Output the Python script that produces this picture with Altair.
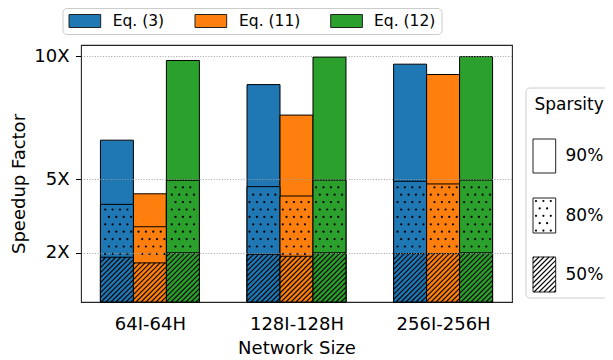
import json
import altair as alt
import pandas as pd

# ---------------- data ----------------
networks = ["64I-64H", "128I-128H", "256I-256H"]
methods = ["Eq. (3)", "Eq. (11)", "Eq. (12)"]
method_colors = ["#1f77b4", "#ff7f0e", "#2ca02c"]
sparsity_levels = ["90%", "80%", "50%"]

eq3_s90 = [6.58, 8.84, 9.67]
eq3_s80 = [3.97, 4.69, 4.91]
eq3_s50 = [1.82, 1.94, 1.97]
eq11_s90 = [4.40, 7.60, 9.25]
eq11_s80 = [3.06, 4.31, 4.80]
eq11_s50 = [1.59, 1.86, 1.97]
eq12_s90 = [9.82, 9.96, 9.98]
eq12_s80 = [4.95, 4.96, 4.96]
eq12_s50 = [2.00, 2.00, 2.00]

y_ticks = [2, 5, 10]

series = {
    "Eq. (3)": {"90%": eq3_s90, "80%": eq3_s80, "50%": eq3_s50},
    "Eq. (11)": {"90%": eq11_s90, "80%": eq11_s80, "50%": eq11_s50},
    "Eq. (12)": {"90%": eq12_s90, "80%": eq12_s80, "50%": eq12_s50},
}

# ---------------- layout constants ----------------
FONT = "DejaVu Sans"
W_PX, H_PX = 431, 257
XMIN, XMAX = -0.47, 2.47
YMAX = 10.45
BAR_W = 0.225
px_x = W_PX / (XMAX - XMIN)
px_y = H_PX / YMAX

rows = []
for g, net in enumerate(networks):
    for m, meth in enumerate(methods):
        x0 = g + (m - 1) * BAR_W - BAR_W / 2
        for s in sparsity_levels:
            rows.append({"network": net, "method": meth, "sparsity": s,
                         "x0": x0, "x1": x0 + BAR_W,
                         "value": series[meth][s][g], "zero": 0.0})
bars = pd.DataFrame(rows)

# hatch ('///') lines inside 50% bars and dots inside 80% bars
HATCH = 5.0
DOT = 7.4
hatch_rows, dot_rows = [], []
for g, net in enumerate(networks):
    for m, meth in enumerate(methods):
        x0 = g + (m - 1) * BAR_W - BAR_W / 2
        xl = (x0 - XMIN) * px_x
        xr = xl + BAR_W * px_x
        h50 = series[meth]["50%"][g] * px_y
        h80 = series[meth]["80%"][g] * px_y
        k = int((xl - h50) // HATCH) - 1
        while k * HATCH <= xr + 1:
            c = k * HATCH
            xa, xb = max(xl, c), min(xr, c + h50)
            if xb - xa > 0.4:
                hatch_rows.append({"hx": xa / px_x + XMIN, "hy": (xa - c) / px_y,
                                   "hx2": xb / px_x + XMIN, "hy2": (xb - c) / px_y})
            k += 1
        j = 0
        while j * DOT < h80:
            yu = j * DOT + DOT / 2
            i = 0
            while i * DOT < W_PX:
                xp = i * DOT + (j % 2) * DOT / 2 + 2
                if xl + 1.8 <= xp <= xr - 1.8 and h50 + 2.2 <= yu <= h80 - 2.2:
                    dot_rows.append({"dx": xp / px_x + XMIN, "dy": yu / px_y})
                i += 1
            j += 1
hatch_df = pd.DataFrame(hatch_rows)
dot_df = pd.DataFrame(dot_rows)

color = alt.Color("method:N", scale=alt.Scale(domain=methods, range=method_colors), legend=None)
xscale = alt.Scale(domain=[XMIN, XMAX], nice=False, zero=False)
yscale = alt.Scale(domain=[0, YMAX], nice=False, zero=True)

x_axis = alt.Axis(values=[0, 1, 2], labelExpr=json.dumps(networks) + "[datum.value]",
                  title="Network Size", grid=False, domain=False, ticks=True,
                  tickOpacity=0, tickSize=5, labelPadding=8, labelFont=FONT,
                  labelFontSize=18, labelColor="black", titleFont=FONT,
                  titleFontSize=18, titleFontWeight="normal", titleColor="black",
                  titleY=37, titleBaseline="top", labelFlush=False)
y_axis = alt.Axis(values=y_ticks, labelExpr="datum.value + 'X'", title="Speedup Factor",
                  grid=True, gridDash=[1, 1.7], gridColor="#a0a0a0", gridWidth=1,
                  domain=False, ticks=True, tickColor="black", tickSize=5.5, tickWidth=1,
                  labelPadding=6.5, labelFont=FONT, labelFontSize=18, labelColor="black",
                  titleFont=FONT, titleFontSize=18, titleFontWeight="normal",
                  titleColor="black", titleX=-61.5, titleY=138.5, titleAngle=270,
                  titleAlign="center", titleBaseline="middle", zindex=1)

base = alt.Chart(bars)


def bar_layer(level, first=False):
    xenc = alt.X("x0:Q", scale=xscale, axis=x_axis) if first else alt.X("x0:Q", scale=xscale)
    yenc = alt.Y("zero:Q", scale=yscale, axis=y_axis) if first else alt.Y("zero:Q", scale=yscale)
    return base.transform_filter(alt.datum.sparsity == level).mark_rect(
        stroke="black", strokeWidth=1
    ).encode(x=xenc, x2="x1", y=yenc, y2="value", color=color)


b90 = bar_layer("90%", first=True)
b80 = bar_layer("80%")
b50 = bar_layer("50%")

dots = alt.Chart(dot_df).mark_circle(size=5, color="black", opacity=1).encode(
    x=alt.X("dx:Q", scale=xscale),
    y=alt.Y("dy:Q", scale=yscale),
)
hatch = alt.Chart(hatch_df).mark_rule(color="black", strokeWidth=1.1).encode(
    x=alt.X("hx:Q", scale=xscale), x2="hx2",
    y=alt.Y("hy:Q", scale=yscale), y2="hy2",
)

# ---------------- top legend (methods) ----------------
def pxX(f):
    return alt.X(f, type="quantitative", scale=None)


def pxY(f):
    return alt.Y(f, type="quantitative", scale=None)


top_box = alt.Chart(pd.DataFrame([{"a": -18, "b": 361, "c": -36.5, "d": -10.5}])).mark_rect(
    fill="white", stroke="#cccccc", strokeWidth=1, cornerRadius=4
).encode(x=pxX("a"), x2="b", y=pxY("c"), y2="d")

sw_x = [-12, 114, 249.7]
lab_x = [31.7, 158, 293]
cy_top = -24
top_items = pd.DataFrame([{"method": m, "a": sw_x[i], "b": sw_x[i] + 31.7,
                           "c": cy_top - 6.5, "d": cy_top + 6.5,
                           "lx": lab_x[i], "ly": cy_top} for i, m in enumerate(methods)])
top_sw = alt.Chart(top_items).mark_rect(stroke="#222222", strokeWidth=1).encode(
    x=pxX("a"), x2="b", y=pxY("c"), y2="d", color=color)
top_lab = alt.Chart(top_items).mark_text(align="left", baseline="middle", font=FONT,
                                         fontSize=15.5, color="black").encode(
    x=pxX("lx"), y=pxY("ly"), text="method:N")

# ---------------- right legend (sparsity) ----------------
side_box = alt.Chart(pd.DataFrame([{"a": 445, "b": 560, "c": 43, "d": 253}])).mark_rect(
    fill="white", stroke="#cccccc", strokeWidth=1, cornerRadius=4
).encode(x=pxX("a"), x2="b", y=pxY("c"), y2="d")
side_title = alt.Chart(pd.DataFrame([{"t": "Sparsity", "x": 453.5, "y": 60}])).mark_text(
    align="left", baseline="middle", font=FONT, fontSize=17, color="black"
).encode(x=pxX("x"), y=pxY("y"), text="t:N")

sx0, sx1 = 452, 474.7
sy = [(94, 128), (153, 188), (212, 247)]
side_items = pd.DataFrame([{"s": s, "a": sx0, "b": sx1, "c": sy[i][0], "d": sy[i][1],
                            "lx": 484.5, "ly": (sy[i][0] + sy[i][1]) / 2}
                           for i, s in enumerate(sparsity_levels)])
side_sw = alt.Chart(side_items).mark_rect(fill="white", stroke="#222222", strokeWidth=1).encode(
    x=pxX("a"), x2="b", y=pxY("c"), y2="d")
side_lab = alt.Chart(side_items).mark_text(align="left", baseline="middle", font=FONT,
                                          fontSize=17, color="black").encode(
    x=pxX("lx"), y=pxY("ly"), text="s:N")

# legend patterns
lg_dots, lg_hatch = [], []
c0, c1 = sy[1]
for j in range(0, 8):
    yy = c0 + 3 + j * DOT
    for i in range(0, 5):
        xx = sx0 + 3 + i * DOT + (j % 2) * DOT / 2
        if sx0 + 1.5 <= xx <= sx1 - 1.5 and c0 + 1.5 <= yy <= c1 - 1.5:
            lg_dots.append({"x": xx, "y": yy})
h0, h1 = sy[2]
k = int((sx0 + h0) // HATCH)
while k * HATCH <= sx1 + h1 + HATCH:
    c = k * HATCH
    xa, xb = max(sx0, c - h1), min(sx1, c - h0)
    if xb - xa > 0.4:
        lg_hatch.append({"x": xa, "y": c - xa, "x2": xb, "y2": c - xb})
    k += 1
lg_dot_layer = alt.Chart(pd.DataFrame(lg_dots)).mark_circle(size=5, color="black", opacity=1).encode(
    x=pxX("x"), y=pxY("y"))
lg_hatch_layer = alt.Chart(pd.DataFrame(lg_hatch)).mark_rule(color="black", strokeWidth=1.1).encode(
    x=pxX("x"), x2="x2", y=pxY("y"), y2="y2")

chart = alt.layer(
    b90, b80, dots, b50, hatch,
    top_box, top_sw, top_lab,
    side_box, side_title, side_sw, lg_dot_layer, lg_hatch_layer, side_lab,
).properties(
    width=W_PX, height=H_PX,
    padding={"left": 73, "top": 37, "right": 93, "bottom": 58},
    autosize=alt.AutoSizeParams(type="none"),
).configure(font=FONT).configure_view(stroke="#262626", strokeWidth=1.1)

chart.save("out.html", embed_options={"renderer": "svg", "actions": False})
